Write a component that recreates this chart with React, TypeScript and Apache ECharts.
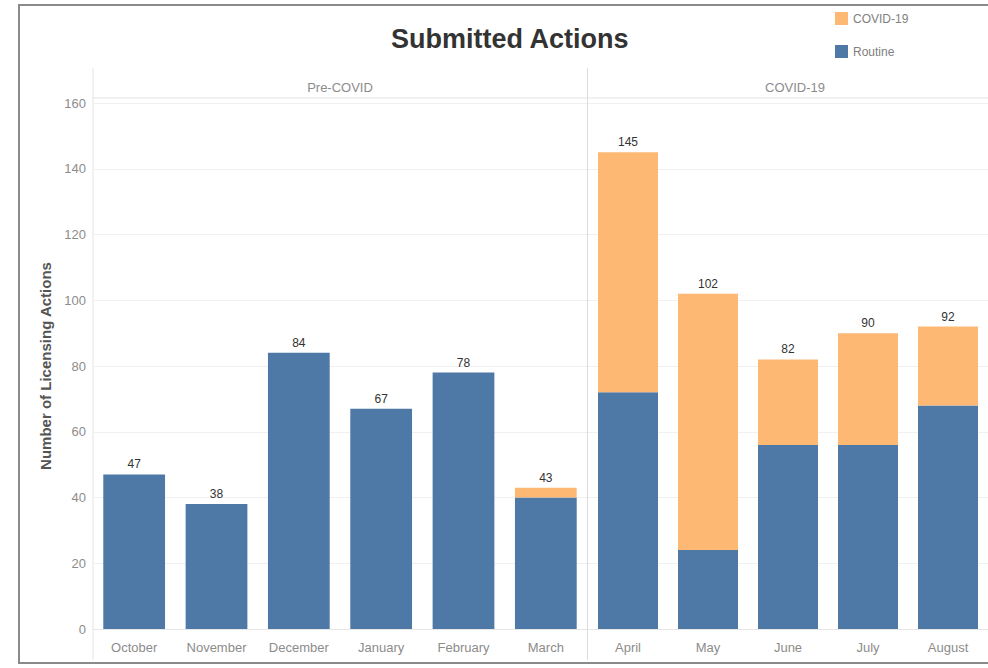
import React, { useEffect, useRef } from "react";
import * as echarts from "echarts";

const preCategories = ["October", "November", "December", "January", "February", "March"];
const covidCategories = ["April", "May", "June", "July", "August"];
const preRoutine = [47, 38, 84, 67, 78, 40];
const preCovid = [0, 0, 0, 0, 0, 3];
const covRoutine = [72, 24, 56, 56, 68];
const covCovid = [73, 78, 26, 34, 24];
const yTicks = { min: 0, max: 160, interval: 20 };

const BLUE = "#4e79a7";
const ORANGE = "#fdb874";
const FONT = "'Liberation Sans', Arial, sans-serif";
const LIGHT = "#8c8c8c";

export default function App() {
  const ref = useRef<HTMLDivElement>(null);
  useEffect(() => {
    if (!ref.current) return;
    const chart = echarts.init(ref.current, undefined, { renderer: "svg" });
    const preTotal = preRoutine.map((v, i) => v + preCovid[i]);
    const covTotal = covRoutine.map((v, i) => v + covCovid[i]);
    const xAxisCommon = {
      type: "category" as const,
      axisTick: { show: false },
      axisLine: { show: true, lineStyle: { color: "#e6e6e6" } },
      axisLabel: { color: LIGHT, fontSize: 13, fontFamily: FONT, margin: 12 },
    };
    const totalLabel = (totals: number[]) => ({
      show: true,
      position: "top" as const,
      distance: 4,
      color: "#333",
      fontSize: 12,
      fontFamily: FONT,
      formatter: (p: any) => String(totals[p.dataIndex]),
    });
    chart.setOption({
      animation: false,
      backgroundColor: "#fff",
      title: {
        text: "Submitted Actions",
        left: 386,
        top: 20,
        textStyle: { fontSize: 27, fontWeight: "bold", color: "#333", fontFamily: FONT },
      },
      legend: {
        orient: "vertical",
        left: 830,
        top: 7,
        itemWidth: 13,
        itemHeight: 13,
        itemGap: 20,
        icon: "rect",
        data: ["COVID-19", "Routine"],
        textStyle: { color: "#808080", fontSize: 12, fontFamily: FONT },
      },
      grid: [
        { left: 93, top: 103, width: 494, bottom: 39 },
        { left: 588, top: 103, width: 410, bottom: 39 },
      ],
      xAxis: [
        { ...xAxisCommon, gridIndex: 0, data: preCategories },
        { ...xAxisCommon, gridIndex: 1, data: covidCategories },
      ],
      yAxis: [
        {
          type: "value",
          gridIndex: 0,
          ...yTicks,
          name: "Number of Licensing Actions",
          nameLocation: "middle",
          nameGap: 40,
          nameTextStyle: { color: "#555", fontSize: 15, fontWeight: "bold", fontFamily: FONT },
          axisLine: { show: false },
          axisTick: { show: false },
          axisLabel: { color: LIGHT, fontSize: 13, fontFamily: FONT, margin: 7 },
          splitLine: { lineStyle: { color: "#f0f0f0" } },
        },
        {
          type: "value",
          gridIndex: 1,
          ...yTicks,
          axisLine: { show: false },
          axisTick: { show: false },
          axisLabel: { show: false },
          splitLine: { lineStyle: { color: "#f0f0f0" } },
        },
      ],
      series: [
        {
          name: "Routine",
          type: "bar",
          stack: "pre",
          xAxisIndex: 0,
          yAxisIndex: 0,
          data: preRoutine,
          barCategoryGap: "25%",
          itemStyle: { color: BLUE },
        },
        {
          name: "COVID-19",
          type: "bar",
          stack: "pre",
          xAxisIndex: 0,
          yAxisIndex: 0,
          data: preCovid,
          barCategoryGap: "25%",
          itemStyle: { color: ORANGE },
          label: totalLabel(preTotal),
        },
        {
          name: "Routine",
          type: "bar",
          stack: "cov",
          xAxisIndex: 1,
          yAxisIndex: 1,
          data: covRoutine,
          barCategoryGap: "25%",
          itemStyle: { color: BLUE },
        },
        {
          name: "COVID-19",
          type: "bar",
          stack: "cov",
          xAxisIndex: 1,
          yAxisIndex: 1,
          data: covCovid,
          barCategoryGap: "25%",
          itemStyle: { color: ORANGE },
          label: totalLabel(covTotal),
        },
      ],
      graphic: [
        {
          type: "rect",
          shape: { x: 19, y: 5, width: 1000, height: 658 },
          style: { fill: "none", stroke: "#8a8a8a", lineWidth: 2 },
          silent: true,
        },
        {
          type: "line",
          shape: { x1: 93, y1: 98, x2: 988, y2: 98 },
          style: { stroke: "#e3e3e3", lineWidth: 1 },
        },
        {
          type: "line",
          shape: { x1: 93, y1: 68, x2: 93, y2: 660 },
          style: { stroke: "#e3e3e3", lineWidth: 1 },
        },
        {
          type: "line",
          shape: { x1: 587.5, y1: 68, x2: 587.5, y2: 660 },
          style: { stroke: "#dcdcdc", lineWidth: 1 },
        },
        {
          type: "text",
          x: 340,
          y: 87,
          style: {
            text: "Pre-COVID",
            fill: LIGHT,
            fontSize: 13,
            fontFamily: FONT,
            textAlign: "center",
            textVerticalAlign: "middle",
          },
        },
        {
          type: "text",
          x: 795,
          y: 87,
          style: {
            text: "COVID-19",
            fill: LIGHT,
            fontSize: 13,
            fontFamily: FONT,
            textAlign: "center",
            textVerticalAlign: "middle",
          },
        },
      ],
    });
    return () => chart.dispose();
  }, []);
  return (
    <div
      ref={ref}
      style={{ position: "fixed", left: 0, top: 0, width: 988, height: 668, background: "#fff" }}
    />
  );
}
